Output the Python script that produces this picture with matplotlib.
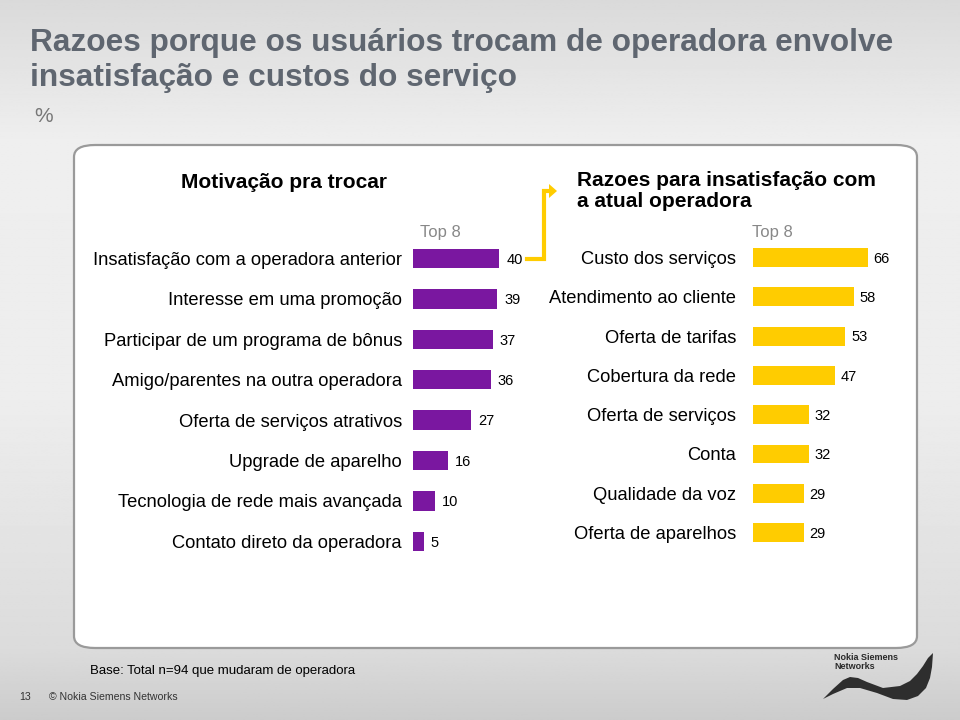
import matplotlib
matplotlib.use("Agg")
import matplotlib.pyplot as plt
import numpy as np
from matplotlib.patches import FancyBboxPatch, Polygon
from matplotlib.lines import Line2D

plt.rcParams['font.family'] = ['Liberation Sans', 'DejaVu Sans']

# ---- data ----
title = "Razoes porque os usuários trocam de operadora envolve\ninsatisfação e custos do serviço"
left_title = "Motivação pra trocar"
left_categories = ["Insatisfação com a operadora anterior", "Interesse em uma promoção",
                   "Participar de um programa de bônus", "Amigo/parentes na outra operadora",
                   "Oferta de serviços atrativos", "Upgrade de aparelho",
                   "Tecnologia de rede mais avançada", "Contato direto da operadora"]
left_values = [40, 39, 37, 36, 27, 16, 10, 5]
right_title = "Razoes para insatisfação com\na atual operadora"
right_categories = ["Custo dos serviços", "Atendimento ao cliente", "Oferta de tarifas",
                    "Cobertura da rede", "Oferta de serviços", "Conta",
                    "Qualidade da voz", "Oferta de aparelhos"]
right_values = [66, 58, 53, 47, 32, 32, 29, 29]

W, H = 960, 720
fig = plt.figure(figsize=(9.6, 7.2), dpi=100)

def fx(x):
    return x / W

def fy(y):
    return 1 - y / H

# background gradient
bg = fig.add_axes([0, 0, 1, 1], zorder=0)
bg.set_axis_off()
ys = np.linspace(0, 720, 400)
vals = np.interp(ys, [0, 140, 400, 650, 720], [0.855, 0.935, 0.93, 0.86, 0.80])
grad = np.tile(vals[:, None], (1, 2))
bg.imshow(grad, cmap='gray', vmin=0, vmax=1, aspect='auto', extent=[0, 1, 0, 1], origin='upper')
bg.set_xlim(0, 1)
bg.set_ylim(0, 1)

# white rounded box
box = FancyBboxPatch((fx(74), fy(648)), fx(917 - 74), (648 - 145) / H,
                     boxstyle="round,pad=0,rounding_size=0.022", transform=bg.transAxes,
                     facecolor='white', edgecolor='#9a9a9a', linewidth=1.6,
                     mutation_aspect=H / W)
bg.add_patch(box)

# titles
fig.text(fx(30), fy(28), title, fontsize=22.8, fontweight='bold', color='#5f6670',
         va='top', ha='left', linespacing=1.2)
fig.text(fx(34), fy(117), "%", fontsize=15, color='#777777', va='center', ha='left')

fig.text(fx(387), fy(182), left_title, fontsize=15, fontweight='bold', color='black',
         ha='right', va='center')
fig.text(fx(577), fy(191), right_title, fontsize=15, fontweight='bold', color='black',
         ha='left', va='center', linespacing=1.12)

fig.text(fx(420), fy(232), "Top 8", fontsize=12, color='#888888', ha='left', va='center')
fig.text(fx(752), fy(232), "Top 8", fontsize=12, color='#888888', ha='left', va='center')

purple = '#7a17a0'
yellow = '#ffcc00'

# left axes
sp_l = 40.4
top_l = 258.5 - sp_l / 2
axl = fig.add_axes([fx(413), fy(top_l + 8 * sp_l), 216 / W, 8 * sp_l / H], zorder=2)
yl = np.arange(len(left_values))
axl.barh(yl, left_values, height=0.48, color=purple)
axl.set_xlim(0, 100)
axl.set_ylim(len(left_values) - 0.5, -0.5)
axl.set_yticks(yl)
axl.set_yticklabels(left_categories, fontsize=13.2)
axl.tick_params(axis='y', length=0, pad=8)
axl.set_xticks([])
for s in axl.spines.values():
    s.set_visible(False)
axl.patch.set_alpha(0)
for i, v in enumerate(left_values):
    axl.annotate(str(v), (v, i), xytext=(5, -1), textcoords='offset points',
                 fontsize=10.5, va='center', ha='left')

# right axes
sp_r = 39.3
top_r = 257.5 - sp_r / 2
axr = fig.add_axes([fx(753), fy(top_r + 8 * sp_r), 174.5 / W, 8 * sp_r / H], zorder=2)
yr = np.arange(len(right_values))
axr.barh(yr, right_values, height=0.48, color=yellow)
axr.set_xlim(0, 100)
axr.set_ylim(len(right_values) - 0.5, -0.5)
axr.set_yticks(yr)
axr.set_yticklabels(right_categories, fontsize=13.2)
axr.tick_params(axis='y', length=0, pad=12)
axr.set_xticks([])
for s in axr.spines.values():
    s.set_visible(False)
axr.patch.set_alpha(0)
for i, v in enumerate(right_values):
    axr.annotate(str(v), (v, i), xytext=(4, -1), textcoords='offset points',
                 fontsize=10.5, va='center', ha='left')

# yellow connector arrow
line = Line2D([fx(527), fx(544), fx(544), fx(550)], [fy(259), fy(259), fy(191), fy(191)],
              transform=bg.transAxes, color=yellow, linewidth=3, solid_joinstyle='miter')
bg.add_line(line)
head = Polygon([[fx(549), fy(184)], [fx(549), fy(198)], [fx(557), fy(191)]], closed=True,
               transform=bg.transAxes, facecolor=yellow, edgecolor='none')
bg.add_patch(head)

# footer
fig.text(fx(90), fy(671), "Base: Total n=94 que mudaram de operadora", fontsize=9.5,
         color='black', ha='left', va='center')
fig.text(fx(19), fy(697), "13", fontsize=7.6, color='#333333', ha='left', va='center')
fig.text(fx(49), fy(697), "© Nokia Siemens Networks", fontsize=7.6, color='#333333',
         ha='left', va='center')

# logo
fig.text(fx(834), fy(662), "Nokia Siemens\nNetworks", fontsize=6.5, fontweight='bold',
         color='#2a2a2a', ha='left', va='center', linespacing=0.95)
upper = [(823, 699), (833, 689), (843, 680), (850, 677), (858, 678), (867, 682),
         (883, 688), (900, 686), (910, 681), (917, 674), (923, 666), (928, 658), (933, 653)]
lower = [(932, 667), (930, 678), (926, 688), (918, 696), (907, 700), (893, 699),
         (877, 693), (860, 688), (847, 688), (833, 694)]
wave_pts = [(fx(x), fy(y)) for x, y in upper + lower]
wave = Polygon(wave_pts, closed=True, transform=bg.transAxes,
               facecolor='#2e2e2e', edgecolor='none')
bg.add_patch(wave)

fig.savefig("out.png", dpi=100)
